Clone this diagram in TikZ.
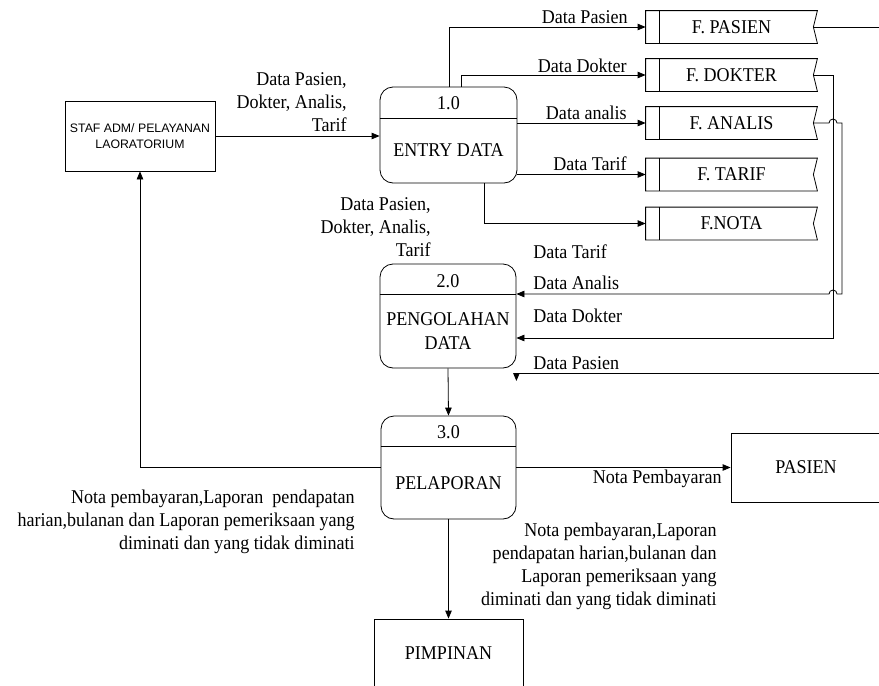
\documentclass[tikz,border=0pt]{standalone}
\usepackage{fontspec}
\setmainfont{Liberation Serif}[FakeStretch=0.925]
\newfontfamily\arialf{Liberation Sans}
\usetikzlibrary{arrows.meta,calc}
\begin{document}
\begin{tikzpicture}[x=1pt,y=-1pt,
  line width=0.8pt,
  every node/.style={font=\fontsize{19.5}{23}\selectfont, inner sep=0pt},
  arr/.style={-{Triangle[length=8pt,width=6.5pt]}},
  proc/.style={draw, rounded corners=13pt},
  ent/.style={draw, rectangle},
  storebox/.style={minimum width=171pt, minimum height=32pt},
  lblr/.style={align=right, anchor=east},
  lbll/.style={anchor=west},
]
\useasboundingbox (0,0) rectangle (879,686);

% external entities
\node[ent, minimum width=150pt, minimum height=70pt, align=center,
      font=\arialf\fontsize{12.3}{16}\selectfont] (staf) at (140,136)
      {STAF ADM/ PELAYANAN\\LAORATORIUM};
\node[ent, minimum width=150pt, minimum height=69pt] (pasien) at (806,467.5) {PASIEN};
\node[ent, minimum width=149pt, minimum height=68pt] (pim) at (448.5,653) {PIMPINAN};

% processes
\node[proc, minimum width=137pt, minimum height=96pt] (p1) at (448.5,135) {};
\draw (p1.west |- 0,118) -- (p1.east |- 0,118);
\node (p1n) at (448.5,103) {1.0};
\node (p1t) at (448.5,150) {ENTRY DATA};

\node[proc, minimum width=136pt, minimum height=104pt] (p2) at (448,316) {};
\draw (p2.west |- 0,294) -- (p2.east |- 0,294);
\node (p2n) at (448,281) {2.0};
\node[align=center, font=\fontsize{19.5}{24}\selectfont] (p2t) at (448,331) {PENGOLAHAN\\DATA};

\node[proc, minimum width=135pt, minimum height=103pt] (p3) at (448.5,467.5) {};
\draw (p3.west |- 0,446) -- (p3.east |- 0,446);
\node (p3n) at (448.5,432) {3.0};
\node (p3t) at (448.5,483) {PELAPORAN};

% data stores
\foreach \n/\y/\t in {sp/27/F. PASIEN, sd/75/F. DOKTER, sa/123/F. ANALIS, st/174.5/F. TARIF, sn/223.5/F.NOTA}{
  \node[storebox] (\n) at (731.5,\y) {\t};
  \draw (\n.north west) -- (\n.north east) -- ($(\n.east)+(-4,0)$) -- (\n.south east) -- (\n.south west) -- cycle;
  \draw ($(\n.north west)+(14,0)$) -- ($(\n.south west)+(14,0)$);
}

% flows
\draw[arr] (staf.east) -- (staf.east -| p1.west);
\draw[arr] (p1.north -| 449,0) |- (sp.west);
\draw[arr] (p1.north -| 461,0) |- (sd.west);
\draw[arr] (sa.west -| p1.east) -- (sa.west);
\draw[arr] (st.west -| p1.east) -- (st.west);
\draw[arr] (p1.south -| 484,0) |- (sn.west);

\coordinate (edgeA) at (885,27);
\draw ($(sp.east)+(-4,0)$) -- (edgeA);
\draw[arr] ($(sd.east)+(-4,0)$) -- (833,75) -- (833,338) -- (p2.east |- 0,338);
\draw[arr] ($(sa.east)+(-4,0)$) -- (829,123) arc[start angle=180,end angle=0,radius=4pt]
   -- (842,123) -- (842,294) -- (837,294) arc[start angle=0,end angle=180,radius=4pt]
   -- (p2.east |- 0,294);
\coordinate (edgeB) at (885,373);
\draw[arr] (edgeB) -- (p2.east |- 0,373) -- ++(0,8);

\draw[arr] (p2.south) -- (p3.north);
\draw[arr] (p3.west) -| (staf.south);
\draw[arr] (p3.east) -- (pasien.west);
\draw[arr] (p3.south) -- (pim.north);

% labels
\node[lblr] (l1) at (347,102.5) {Data Pasien,\\Dokter, Analis,\\Tarif};
\node[lblr] (l2) at (431,227.5) {Data Pasien,\\Dokter, Analis,\\Tarif};
\node[lblr] (l3) at (628,17) {Data Pasien};
\node[lblr] (l4) at (627,66) {Data Dokter};
\node[lblr] (l5) at (627,113) {Data analis};
\node[lblr] (l6) at (627,164) {Data Tarif};
\node[lbll] (l7) at (533,252) {Data Tarif};
\node[lbll] (l8) at (533,283) {Data Analis};
\node[lbll] (l9) at (533,316) {Data Dokter};
\node[lbll] (l10) at (533,363) {Data Pasien};
\node[lblr] (l11) at (722,479) {Nota Pembayaran};
\node[lblr] (l12) at (355,522) {Nota pembayaran,Laporan~ pendapatan\\harian,bulanan dan Laporan pemeriksaan yang\\diminati dan yang tidak diminati};
\node[lblr] (l13) at (717,566) {Nota pembayaran,Laporan\\pendapatan harian,bulanan dan\\Laporan pemeriksaan yang\\diminati dan yang tidak diminati};
\end{tikzpicture}
\end{document}
